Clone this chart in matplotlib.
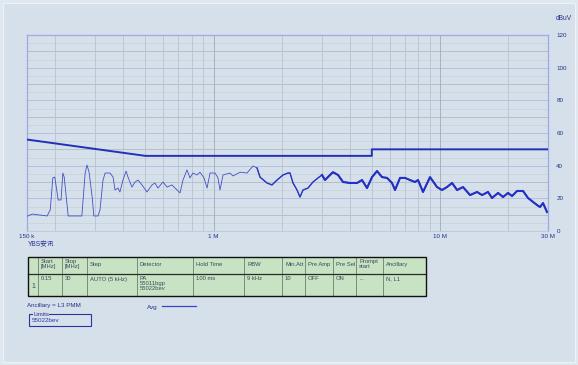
import numpy as np
import matplotlib
matplotlib.use("Agg")
import matplotlib.pyplot as plt
from matplotlib.patches import Rectangle

plt.rcParams['font.family'] = ['Liberation Sans', 'Noto Sans CJK SC', 'DejaVu Sans']

# measured avg trace (MHz, dBuV)
freq = [0.150, 0.158, 0.184, 0.190, 0.195, 0.199, 0.206, 0.212, 0.216, 0.219, 0.228,
        0.262, 0.271, 0.276, 0.282, 0.291, 0.296, 0.309, 0.315, 0.325, 0.332, 0.349,
        0.360, 0.367, 0.378, 0.386, 0.398, 0.411, 0.419, 0.436, 0.450, 0.464, 0.483,
        0.508, 0.535, 0.551, 0.568, 0.598, 0.623, 0.655, 0.690, 0.711, 0.733, 0.763,
        0.787, 0.811, 0.845, 0.871, 0.908, 0.936, 0.965, 1.015, 1.046, 1.068, 1.101,
        1.182, 1.219, 1.309, 1.405, 1.494, 1.556, 1.604, 1.722, 1.812, 1.907, 2.027,
        2.132, 2.176, 2.244, 2.337, 2.409, 2.484, 2.613, 2.749, 2.893, 3.014, 3.107,
        3.269, 3.370, 3.546, 3.731, 4.006, 4.302, 4.527, 4.762, 5.011, 5.272, 5.548,
        5.837, 6.142, 6.332, 6.662, 7.010, 7.375, 7.760, 8.000, 8.417, 9.038, 9.705,
        10.21, 10.74, 11.31, 11.90, 12.64, 13.58, 14.58, 15.34, 16.30, 16.98, 18.05,
        18.99, 19.98, 20.81, 21.90, 23.27, 24.49, 25.76, 26.83, 27.66, 28.52, 29.70]
level = [9.0, 10.4, 9.2, 12.9, 32.5, 33.0, 19.0, 19.0, 35.5, 33.0, 9.2,
         9.2, 35.5, 40.4, 36.0, 20.8, 9.2, 9.2, 12.9, 31.2, 35.5, 35.5,
         33.0, 25.1, 26.3, 23.9, 31.2, 36.7, 33.0, 26.9, 30.0, 31.2, 28.2,
         23.9, 28.2, 29.4, 26.3, 30.0, 26.9, 28.2, 25.1, 23.3, 31.2, 37.4,
         32.5, 35.5, 34.3, 36.0, 32.5, 26.3, 35.5, 35.5, 32.5, 25.1, 34.3,
         35.5, 33.7, 36.0, 35.5, 39.8, 38.6, 33.0, 29.4, 28.2, 31.2, 34.3,
         35.5, 35.5, 29.4, 25.1, 20.8, 25.1, 26.3, 30.0, 32.5, 34.3, 31.2,
         34.3, 36.0, 34.3, 30.0, 29.4, 29.4, 31.2, 26.3, 33.0, 36.7, 33.0,
         32.5, 29.4, 25.1, 32.5, 32.5, 31.2, 30.0, 31.2, 23.9, 33.0, 26.9,
         25.1, 26.9, 29.4, 25.1, 26.9, 22.0, 23.9, 22.0, 23.9, 20.2, 23.3,
         20.8, 23.3, 21.4, 24.5, 24.5, 20.2, 17.8, 15.9, 14.7, 17.1, 11.6]

# EN55022 class B avg limit
lim_freq = [0.15, 0.5, 5.0, 5.0, 30.0]
lim_level = [56, 46, 46, 50, 50]

y_ticks = [0, 20, 40, 60, 80, 100, 120]
x_ticks = [0.15, 1, 10, 30]
x_labels = ["150 k", "1 M", "10 M", "30 M"]

headers = ["", "Start\n[MHz]", "Stop\n[MHz]", "Step", "Detector", "Hold Time", "RBW",
           "Min.Att", "Pre Amp", "Pre Sel", "Prompt\nstart", "Ancillary"]
row = ["1", "0.15", "30", "AUTO (5 kHz)", "PA\n55011bgp\n55022bev", "100 ms", "9 kHz",
       "10", "OFF", "ON", "...", "N, L1"]

W, H = 578, 365
bg = '#d6e0eb'
txt = '#27308a'

fig = plt.figure(figsize=(W / 100, H / 100), dpi=100, facecolor='#dfe7ef')

# overlay for frame / table in pixel coords
ov = fig.add_axes([0, 0, 1, 1])
ov.set_xlim(0, W)
ov.set_ylim(H, 0)
ov.axis('off')
ov.add_patch(Rectangle((3, 3), W - 6, H - 6, facecolor=bg, edgecolor='#eef2f7', lw=0.8))

ax = fig.add_axes([27 / W, (H - 231) / H, 521 / W, 196 / H])
ax.set_facecolor(bg)
ax.set_xscale('log')
ax.set_xlim(0.15, 30)
ax.set_ylim(0, 120)

# grid
for v in range(5, 120, 5):
    if v % 20 == 0:
        c, lw = '#b8bfe2', 0.7
    elif v % 10 == 0:
        c, lw = '#b2bac4', 0.6
    else:
        c, lw = '#c8d1da', 0.5
    ax.axhline(v, color=c, lw=lw, zorder=0)
for dec in [0.1, 1, 10]:
    for k in range(1, 10):
        f = dec * k
        if 0.15 < f < 30:
            col = '#a2aab4' if k == 1 else '#bac2cc'
            ax.axvline(f, color=col, lw=0.6, zorder=0)

ax.plot(lim_freq, lim_level, color='#2230b8', lw=1.4, zorder=3)

fr = np.array(freq)
lv = np.array(level)
ax.plot(fr, lv, color='#4250c4', lw=0.6, zorder=4)
m = fr >= 1.55
ax.plot(fr[m], lv[m], color='#2c38c4', lw=1.0, zorder=4)
m = fr >= 3.0
ax.plot(fr[m], lv[m], color='#2330c4', lw=1.5, zorder=4)

for s in ['left', 'top', 'right']:
    ax.spines[s].set_color('#a2a8e2')
    ax.spines[s].set_linewidth(0.9)
ax.spines['bottom'].set_color('#bcc5dc')
ax.spines['bottom'].set_linewidth(0.6)

ax.set_xticks(x_ticks)
ax.set_xticklabels(x_labels)
ax.xaxis.set_minor_locator(matplotlib.ticker.NullLocator())
ax.set_yticks(y_ticks)
ax.yaxis.tick_right()
ax.tick_params(axis='both', length=0, labelsize=4.5, colors=txt, pad=2)
ax.tick_params(axis='y', pad=6)
ov.text(556, 19, "dBuV", fontsize=4.8, color=txt, ha='left', va='center')

# text under chart
ov.text(28, 245, "YBS安讯", fontsize=4.8, color=txt, va='center', ha='left')

cols = [28, 38, 62, 87, 137, 193, 244, 282, 305, 333, 356, 383, 426]
y0, y1, y2 = 257, 274, 296
ov.add_patch(Rectangle((cols[0], y0), cols[-1] - cols[0], y2 - y0,
                       facecolor='#c7e3c3', edgecolor='none', zorder=1))
for x in cols[1:-1]:
    ov.plot([x, x], [y0, y2], color='#5a6a5a', lw=0.5, zorder=2)
ov.plot([cols[0], cols[-1]], [y1, y1], color='#2a2a2a', lw=0.9, zorder=2)
ov.add_patch(Rectangle((cols[0], y0), cols[-1] - cols[0], y2 - y0,
                       facecolor='none', edgecolor='#111111', lw=1.0, zorder=3))
for i, h in enumerate(headers):
    ov.text(cols[i] + 3, y0 + (2 if '\n' in h else 5), h, fontsize=4.2, color='#3c4a5a',
            va='top', ha='left', linespacing=0.95, zorder=4)
for i, r in enumerate(row):
    if i == 0:
        ov.text((cols[0] + cols[1]) / 2, (y1 + y2) / 2 + 1, r, fontsize=5, color='#3c4a5a',
                va='center', ha='center', zorder=4)
    else:
        ov.text(cols[i] + 3, y1 + 2.5, r, fontsize=4.2, color='#3c4a5a',
                va='top', ha='left', linespacing=0.95, zorder=4)

ov.text(27, 305, "Ancillary = L3 PMM", fontsize=4.5, color=txt, va='center', ha='left')
ov.text(147, 307, "Avg", fontsize=4.5, color=txt, va='center', ha='left')
ov.plot([162, 196], [306, 306], color='#3a46c8', lw=0.9)

ov.add_patch(Rectangle((29, 314), 62, 12, facecolor='none', edgecolor='#2a36a0', lw=0.8))
ov.text(33, 314, "Limits", fontsize=4.3, color=txt, va='center', ha='left',
        bbox=dict(facecolor=bg, edgecolor='none', pad=0.3))
ov.text(32, 321, "55022bev", fontsize=4.5, color='#2a3aa8', va='center', ha='left')

fig.savefig("out.png", dpi=100, facecolor=fig.get_facecolor())
